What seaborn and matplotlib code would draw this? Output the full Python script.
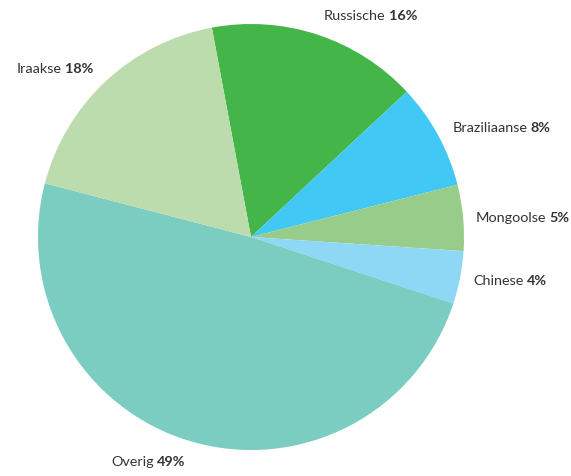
import numpy as np
import matplotlib
matplotlib.use("Agg")
import matplotlib.pyplot as plt
import seaborn as sns

sns.set_theme(style="white")
plt.rcParams['font.family'] = ['Lato', 'DejaVu Sans']

categories = ["Russische", "Braziliaanse", "Mongoolse", "Chinese", "Overig", "Iraakse"]
values = [16, 8, 5, 4, 49, 18]
colors = ["#44b649", "#41c8f4", "#98cc8a", "#8ed8f6", "#7acdc0", "#bcdcae"]

fig = plt.figure(figsize=(5.71, 4.77), dpi=100)
ax = fig.add_axes([0, 0, 1, 1])
wedges, _ = ax.pie(values, colors=colors, startangle=100.6, counterclock=False,
                   radius=1.0, wedgeprops=dict(linewidth=0))
ax.set_aspect('auto')
ax.set_xlim(-251 / 213, (571 - 251) / 213)
ax.set_ylim(-(477 - 238) / 213, 238 / 213)
ax.axis('off')

txt_color = "#333333"
fs = 10.4
gap = 2.2
for w, cat, v in zip(wedges, categories, values):
    ang = np.deg2rad((w.theta1 + w.theta2) / 2)
    r_lab = 1.055 + 0.045 * abs(np.sin(ang))
    x, y = r_lab * np.cos(ang), r_lab * np.sin(ang)
    if np.cos(ang) >= 0:
        t = ax.text(x, y, cat, ha='left', va='center', fontsize=fs, color=txt_color)
        ax.annotate(f"{v}%", xy=(1, 0), xycoords=t, xytext=(gap, 0),
                    textcoords='offset points', ha='left', va='bottom',
                    fontsize=fs, fontweight='bold', color=txt_color)
    else:
        t = ax.text(x, y, f"{v}%", ha='right', va='center', fontsize=fs,
                    fontweight='bold', color=txt_color)
        ax.annotate(cat, xy=(0, 0), xycoords=t, xytext=(-gap, 0),
                    textcoords='offset points', ha='right', va='bottom',
                    fontsize=fs, color=txt_color)

fig.savefig("out.png", dpi=100)
